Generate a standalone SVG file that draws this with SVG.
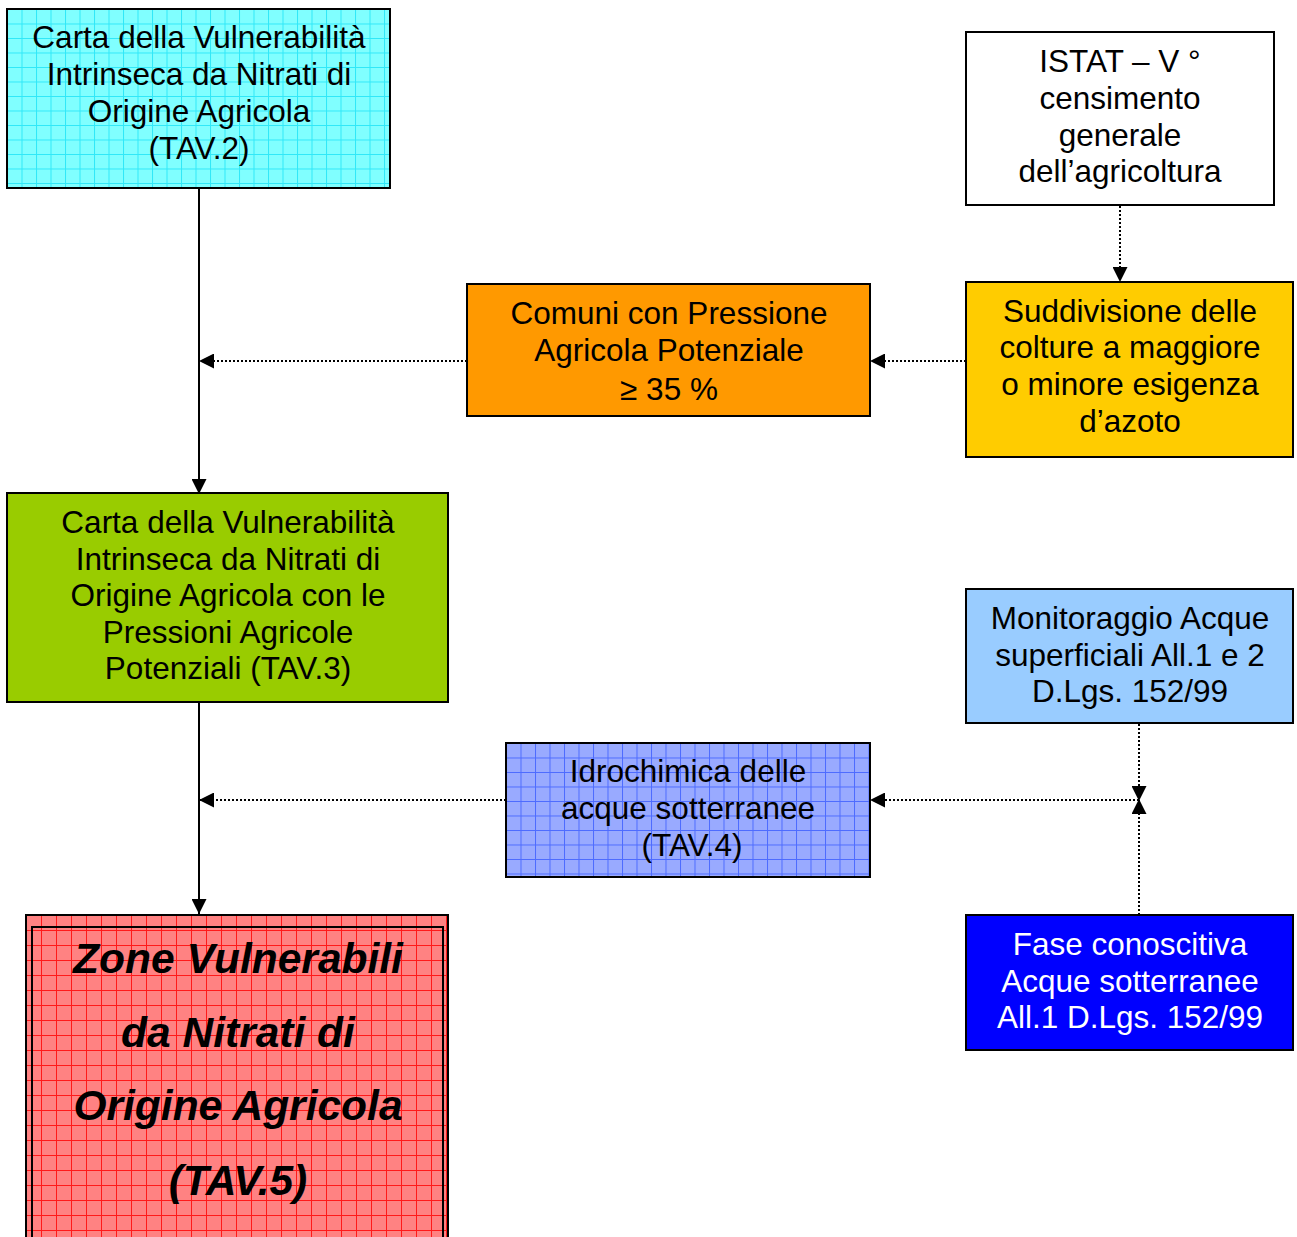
<svg xmlns="http://www.w3.org/2000/svg" width="1297" height="1237" viewBox="0 0 1297 1237">
<defs>
<pattern id="gCyan" x="7" y="9" width="14.5" height="14.5" patternUnits="userSpaceOnUse">
<rect width="14.5" height="14.5" fill="#80FFFF"/>
<path d="M0 0.5H14.5M0.5 0V14.5" stroke="#30E8F8" stroke-width="1"/>
</pattern>
<pattern id="gRed" x="26" y="915" width="15" height="15" patternUnits="userSpaceOnUse">
<rect width="15" height="15" fill="#FF8282"/>
<path d="M0 0.5H15M0.5 0V15" stroke="#FF1A1A" stroke-width="1"/>
</pattern>
<pattern id="gBlue" x="506" y="743" width="14.5" height="14.5" patternUnits="userSpaceOnUse">
<rect width="14.5" height="14.5" fill="#99AAFF"/>
<path d="M0 0.5H14.5M0.5 0V14.5" stroke="#4D6BFF" stroke-width="1"/>
</pattern>
<marker id="ah" viewBox="0 0 10 10" refX="10" refY="5" markerWidth="15" markerHeight="15" markerUnits="userSpaceOnUse" orient="auto">
<path d="M0 0L10 5L0 10Z" fill="#000"/>
</marker>
</defs>
<style>
.box{stroke:#000;stroke-width:2}
.t{font-family:"Liberation Sans",Arial,sans-serif;font-size:31.5px;text-anchor:middle;fill:#000}
.tb{font-family:"Liberation Sans",Arial,sans-serif;font-size:42.5px;font-weight:bold;font-style:italic;text-anchor:middle;fill:#000}
.solid{stroke:#000;stroke-width:2;fill:none;marker-end:url(#ah)}
.dot{stroke:#000;stroke-width:2;stroke-dasharray:2 2;fill:none;marker-end:url(#ah)}
</style>
<rect width="1297" height="1237" fill="#fff"/>
<g id="connectors">
<line class="solid" x1="199" y1="189" x2="199" y2="494"/>
<line class="dot" x1="467" y1="361" x2="199" y2="361"/>
<line class="dot" x1="1120" y1="206" x2="1120" y2="282"/>
<line class="dot" x1="966" y1="361" x2="870" y2="361"/>
<line class="solid" x1="199" y1="703" x2="199" y2="914"/>
<line class="dot" x1="506" y1="800" x2="199" y2="800"/>
<line class="dot" x1="1139" y1="800" x2="870" y2="800"/>
<line class="dot" x1="1139" y1="724" x2="1139" y2="801"/>
<line class="dot" x1="1139" y1="915" x2="1139" y2="799"/>
</g>
<g id="n_tav2">
<rect class="box" x="7" y="9" width="383" height="179" fill="url(#gCyan)"/>
<text class="t"><tspan x="199" y="48">Carta della Vulnerabilità</tspan><tspan x="199" y="85">Intrinseca da Nitrati di</tspan><tspan x="199" y="122">Origine Agricola</tspan><tspan x="199" y="159">(TAV.2)</tspan></text>
</g>
<g id="n_istat">
<rect class="box" x="966" y="32" width="308" height="173" fill="#fff"/>
<text class="t"><tspan x="1120" y="72">ISTAT – V °</tspan><tspan x="1120" y="109">censimento</tspan><tspan x="1120" y="146">generale</tspan><tspan x="1120" y="182">dell’agricoltura</tspan></text>
</g>
<g id="n_comuni">
<rect class="box" x="467" y="284" width="403" height="132" fill="#FF9900"/>
<text class="t"><tspan x="669" y="324">Comuni con Pressione</tspan><tspan x="669" y="361">Agricola Potenziale</tspan><tspan x="669" y="400">≥ 35 %</tspan></text>
</g>
<g id="n_suddivisione">
<rect class="box" x="966" y="282" width="327" height="175" fill="#FFCC00"/>
<text class="t"><tspan x="1130" y="322">Suddivisione delle</tspan><tspan x="1130" y="358">colture a maggiore</tspan><tspan x="1130" y="395">o minore esigenza</tspan><tspan x="1130" y="432">d’azoto</tspan></text>
</g>
<g id="n_tav3">
<rect class="box" x="7" y="493" width="441" height="209" fill="#99CC00"/>
<text class="t"><tspan x="228" y="533">Carta della Vulnerabilità</tspan><tspan x="228" y="570">Intrinseca da Nitrati di</tspan><tspan x="228" y="606">Origine Agricola con le</tspan><tspan x="228" y="643">Pressioni Agricole</tspan><tspan x="228" y="679">Potenziali (TAV.3)</tspan></text>
</g>
<g id="n_monitoraggio">
<rect class="box" x="966" y="589" width="327" height="134" fill="#99CCFF"/>
<text class="t"><tspan x="1130" y="629">Monitoraggio Acque</tspan><tspan x="1130" y="666">superficiali All.1 e 2</tspan><tspan x="1130" y="702">D.Lgs. 152/99</tspan></text>
</g>
<g id="n_tav4">
<rect class="box" x="506" y="743" width="364" height="134" fill="url(#gBlue)"/>
<text class="t"><tspan x="688" y="782">Idrochimica delle</tspan><tspan x="688" y="819">acque sotterranee</tspan><tspan x="692" y="856">(TAV.4)</tspan></text>
</g>
<g id="n_fase">
<rect class="box" x="966" y="915" width="327" height="135" fill="#0000FF"/>
<text class="t" style="fill:#fff"><tspan x="1130" y="955">Fase conoscitiva</tspan><tspan x="1130" y="992">Acque sotterranee</tspan><tspan x="1130" y="1028">All.1 D.Lgs. 152/99</tspan></text>
</g>
<g id="n_tav5">
<rect x="26" y="915" width="422" height="330" fill="url(#gRed)" stroke="#000" stroke-width="2"/>
<path d="M32 1237V927H443V1237" fill="none" stroke="#000" stroke-width="2"/>
<text class="tb"><tspan x="238" y="973">Zone Vulnerabili</tspan><tspan x="238" y="1047">da Nitrati di</tspan><tspan x="238" y="1120">Origine Agricola</tspan><tspan x="238" y="1195">(TAV.5)</tspan></text>
</g>
</svg>
